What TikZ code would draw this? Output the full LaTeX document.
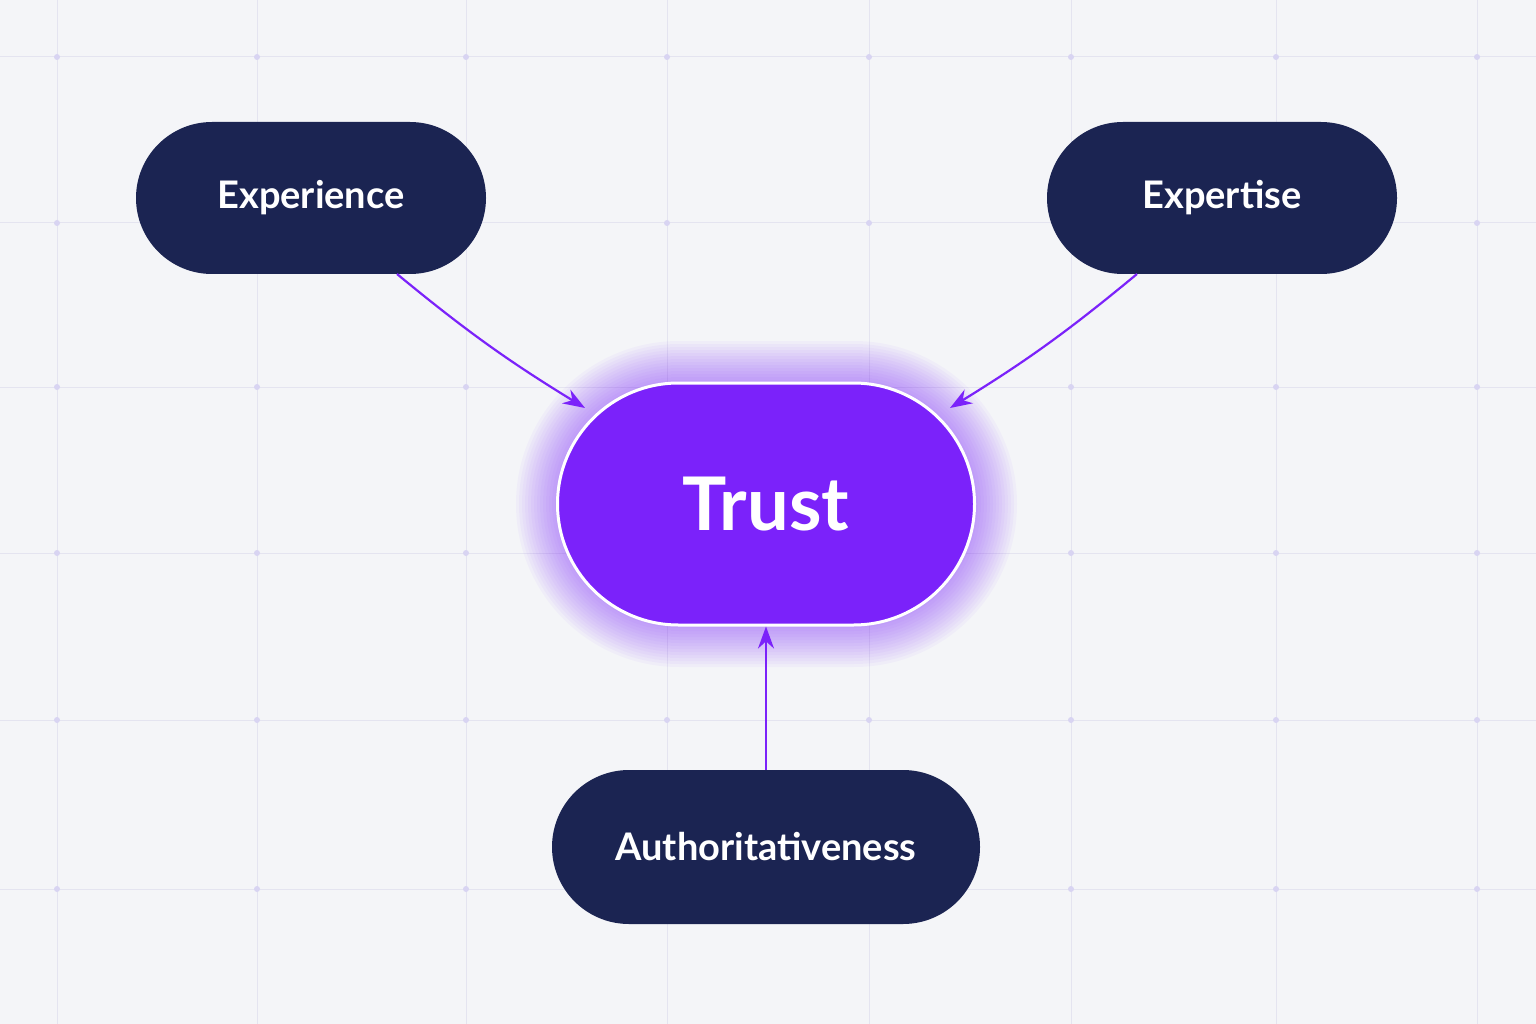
\documentclass[tikz,border=0pt]{standalone}
\usepackage{fontspec}
\setmainfont{Lato}
\usetikzlibrary{arrows.meta}
\definecolor{bg}{HTML}{F4F5F8}
\definecolor{navy}{HTML}{1B2452}
\definecolor{purp}{HTML}{7B22FA}
\definecolor{gridc}{HTML}{E4E4F0}
\definecolor{dotc}{HTML}{D8D4F2}
\begin{document}
\begin{tikzpicture}[x=1pt,y=-1pt,
  pill/.style={draw=none,fill=navy,rounded corners=76pt,minimum width=350pt,minimum height=152pt,text=white,font=\bfseries\fontsize{38}{44}\selectfont},
  conn/.style={draw=purp,line width=2.2pt,-{Stealth[length=22pt,width=16pt]}}]
\useasboundingbox (0,0) rectangle (1536,1024);
\fill[bg] (0,0) rectangle (1536,1024);
\foreach \x in {57,257,466,667,869,1071,1276,1477} \draw[gridc,line width=1pt] (\x,0) -- (\x,1024);
\foreach \y in {57,223,387,553,720,889} \draw[gridc,line width=1pt] (0,\y) -- (1536,\y);
\foreach \x in {57,257,466,667,869,1071,1276,1477}
  \foreach \y in {57,223,387,553,720,889} \fill[dotc] (\x,\y) circle (3pt);
% glow
\foreach \i in {1,...,14}{
  \pgfmathsetmacro{\rr}{121+3*\i}
  \fill[purp,opacity=0.035,rounded corners=\rr pt] ({558-3*\i},{383-3*\i}) rectangle ({975+3*\i},{625+3*\i});
}
\node[pill] (exp) at (311,198) {Experience};
\node[pill] (ext) at (1222,198) {Expertise};
\node[pill,minimum width=428pt,minimum height=154pt,rounded corners=77pt] (aut) at (766,847) {Authoritativeness};
\node[draw=white,line width=3pt,fill=purp,rounded corners=121pt,minimum width=417pt,minimum height=242pt,text=white,font=\bfseries\fontsize{74}{80}\selectfont] (tr) at (766,504) {Trust};
\coordinate (a1) at (397,274);
\coordinate (b1) at (585,408);
\coordinate (a2) at (1137,274);
\coordinate (b2) at (950,408);
\draw[conn] (a1) to[bend right=4] (b1);
\draw[conn] (a2) to[bend left=4] (b2);
\draw[conn] (aut.north) -- (tr.south);
\end{tikzpicture}
\end{document}
